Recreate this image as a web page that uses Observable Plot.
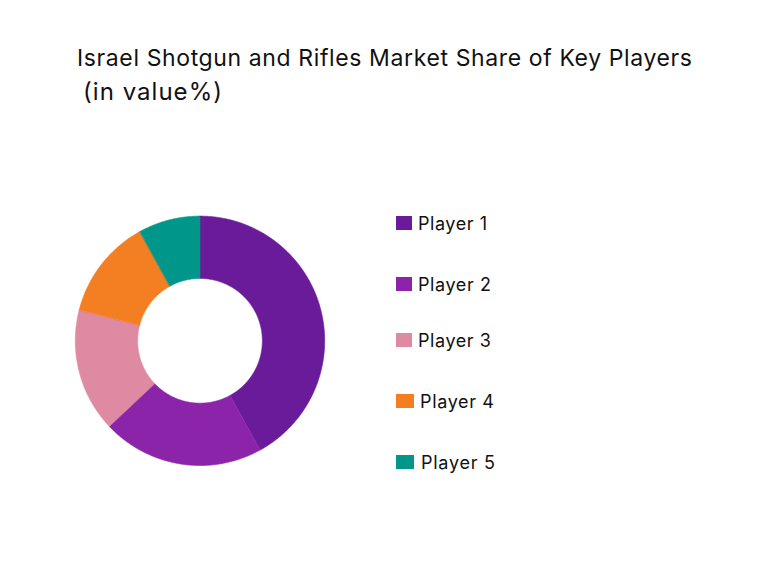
<!DOCTYPE html>
<html>
<head>
<meta charset="utf-8">
<script src="https://cdn.jsdelivr.net/npm/d3@7"></script>
<script src="https://cdn.jsdelivr.net/npm/@observablehq/plot@0.6"></script>
<style>
  html, body { margin: 0; padding: 0; background: #ffffff; }
  #wrap { position: relative; width: 770px; height: 574px; overflow: hidden; font-family: Inter, "Noto Sans", sans-serif; color: #111; }
  #chart { position: absolute; left: 0; top: 0; }
  .title { position: absolute; white-space: nowrap; font-size: 23px; line-height: 1; color: #111; }
  #t2 { font-size: 24px; }
  .leg { position: absolute; white-space: nowrap; font-size: 18px; line-height: 1; color: #111; }
  .sw { position: absolute; width: 16px; height: 14px; }
</style>
</head>
<body>
<div id="wrap">
  <div id="chart"></div>
  <div class="title" id="t1">Israel Shotgun and Rifles Market Share of Key Players</div>
  <div class="title" id="t2">(in value%)</div>
  <div id="legend"></div>
</div>
<script>
// ---- data ----
const players = ["Player 1", "Player 2", "Player 3", "Player 4", "Player 5"];
const shares = [42, 21, 16, 13, 8];
const colors = ["#6a1b9a", "#8c24a9", "#df8aa3", "#f47f23", "#00968a"];

// ---- layout ----
const W = 770, H = 574;
const cx = 199.5, cy = 340.3, R = 124.7, innerRatio = 0.5;

const table = players.map((p, i) => ({player: p, share: shares[i]}));
const arcs = d3.pie().sort(null).value(d => d.share)(table);

// sample each slice as a closed ring segment in unit coordinates
const pts = [];
arcs.forEach(a => {
  const n = Math.max(4, Math.ceil((a.endAngle - a.startAngle) / (Math.PI / 360)));
  for (let k = 0; k <= n; k++) {
    const t = a.startAngle + (a.endAngle - a.startAngle) * k / n;
    pts.push({player: a.data.player, x: Math.sin(t), y: Math.cos(t)});
  }
  for (let k = n; k >= 0; k--) {
    const t = a.startAngle + (a.endAngle - a.startAngle) * k / n;
    pts.push({player: a.data.player, x: innerRatio * Math.sin(t), y: innerRatio * Math.cos(t)});
  }
});

const chart = Plot.plot({
  width: W,
  height: H,
  margin: 0,
  x: {domain: [-cx / R, (W - cx) / R], range: [0, W], axis: null},
  y: {domain: [(cy - H) / R, cy / R], range: [H, 0], axis: null},
  color: {domain: players, range: colors},
  marks: [
    Plot.line(pts, {x: "x", y: "y", z: "player", fill: "player", stroke: "player", strokeWidth: 0.6, curve: "linear-closed"})
  ]
});
document.getElementById("chart").appendChild(chart);

// ---- text fitting ----
function place(el, left, top, width) {
  el.style.left = left + "px";
  el.style.top = top + "px";
  const w = el.getBoundingClientRect().width;
  const n = el.textContent.length - 1;
  el.style.letterSpacing = ((width - w) / n) + "px";
}
place(document.getElementById("t1"), 77, 47, 615);
place(document.getElementById("t2"), 83, 80, 139);

// ---- legend ----
const legTop = [216, 277, 333, 394, 455];
const swLeft = [396, 396, 396, 396, 396];
const swW = [16, 16, 16, 18, 18];
const labLeft = [418, 418, 418, 420, 421];
const labW = [69, 73, 73, 74, 74];
const leg = document.getElementById("legend");
players.forEach((p, i) => {
  const s = document.createElement("div");
  s.className = "sw";
  s.style.left = swLeft[i] + "px";
  s.style.top = legTop[i] + "px";
  s.style.width = swW[i] + "px";
  s.style.background = colors[i];
  leg.appendChild(s);
  const t = document.createElement("div");
  t.className = "leg";
  t.textContent = p;
  leg.appendChild(t);
  place(t, labLeft[i], legTop[i] - 1, labW[i]);
});
</script>
</body>
</html>
